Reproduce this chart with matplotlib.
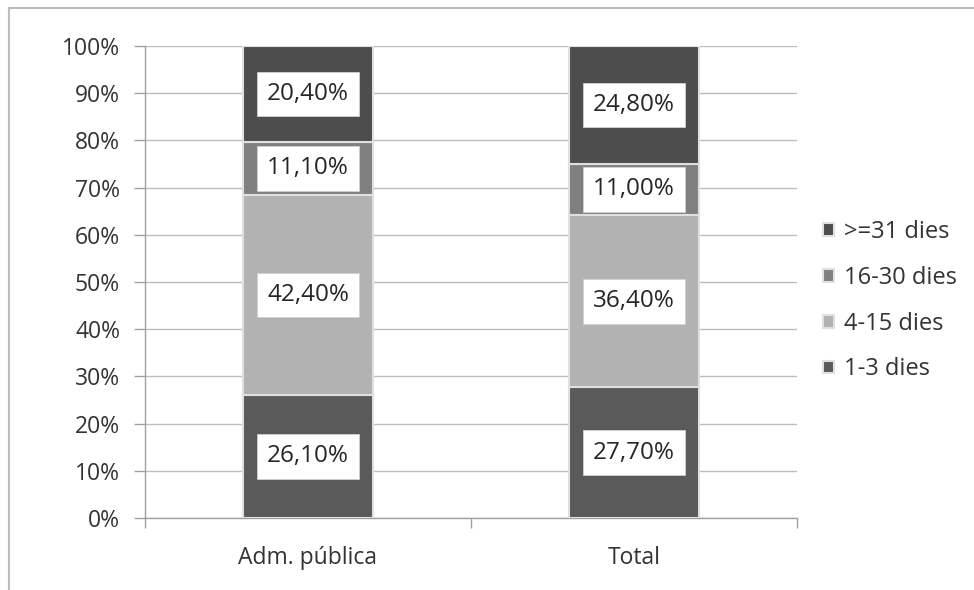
import matplotlib
matplotlib.use("Agg")
import matplotlib.pyplot as plt
from matplotlib.lines import Line2D
import numpy as np

categories = ["Adm. pública", "Total"]
series_names = ["1-3 dies", "4-15 dies", "16-30 dies", ">=31 dies"]
v_1_3 = [26.1, 27.7]
v_4_15 = [42.4, 36.4]
v_16_30 = [11.1, 11.0]
v_31 = [20.4, 24.8]
values = [v_1_3, v_4_15, v_16_30, v_31]
colors = ["#5a5a5a", "#b2b2b2", "#808080", "#4d4d4d"]
yticks = [0, 10, 20, 30, 40, 50, 60, 70, 80, 90, 100]

plt.rcParams['font.family'] = ['Open Sans', 'DejaVu Sans']
FS = 16.5

fig = plt.figure(figsize=(9.74, 5.90), dpi=100)
ax = fig.add_axes([145/974, 1-518/590, (797-145)/974, (518-46)/590])

x = np.arange(len(categories))
bottom = np.zeros(len(categories))
handles = []
for name, vals, c in zip(series_names, values, colors):
    vals = np.array(vals)
    bars = ax.bar(x, vals, width=0.4, bottom=bottom, color=c,
                  edgecolor="#e0e0e0", linewidth=1.5, zorder=3, label=name)
    for xi, b, v in zip(x, bottom, vals):
        ax.text(xi, b + v/2, f"{v:.2f}%".replace(".", ","), ha="center", va="center",
                fontsize=17.5, color="#262626", zorder=5,
                bbox=dict(boxstyle="square,pad=0.42", fc="white", ec="#d0d0d0", lw=0.6))
    handles.append(bars)
    bottom += vals

ax.set_xlim(-0.5, 1.5)
ax.set_ylim(0, 100)
ax.set_yticks(yticks)
ax.set_yticklabels([f"{t}%" for t in yticks])
ax.yaxis.grid(True, color="#bdbdbd", linewidth=1.0, zorder=0)
ax.set_axisbelow(True)
ax.set_xticks(x)
ax.set_xticklabels(categories)
ax.set_xticks([-0.5, 0.5, 1.5], minor=True)
ax.tick_params(axis="x", which="major", length=0, pad=20, labelsize=FS, labelcolor="#333333")
ax.tick_params(axis="x", which="minor", length=7, color="#a0a0a0", width=1)
ax.tick_params(axis="y", length=8, color="#a0a0a0", width=1, pad=10, labelsize=FS, labelcolor="#333333")
for s in ["top", "right"]:
    ax.spines[s].set_visible(False)
for s in ["left", "bottom"]:
    ax.spines[s].set_color("#a0a0a0")
    ax.spines[s].set_linewidth(1.0)

leg = fig.legend(handles[::-1], series_names[::-1], loc="upper left",
                 bbox_to_anchor=(802/974, 1-199/590), frameon=False,
                 fontsize=17, handlelength=0.45, handleheight=0.45,
                 handletextpad=0.45, labelspacing=0.92, labelcolor="#333333")

# outer frame (top and left edges visible)
fig.add_artist(Line2D([9/974, 1], [1-8/590, 1-8/590], transform=fig.transFigure, color="#bdbdbd", lw=1.5))
fig.add_artist(Line2D([9/974, 9/974], [0, 1-8/590], transform=fig.transFigure, color="#bdbdbd", lw=1.5))

fig.savefig("out.png", dpi=100)
